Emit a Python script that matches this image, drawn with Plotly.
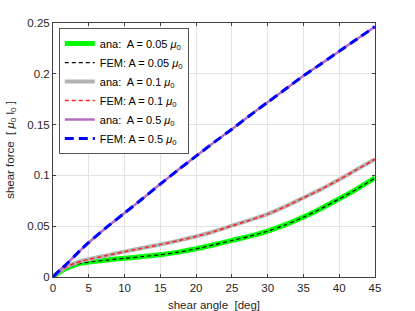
import plotly.graph_objects as go

# shear angle [deg]
angle = [0, 1, 2, 3, 4, 5, 7.5, 10, 12.5, 15, 17.5, 20, 22.5, 25, 27.5, 30, 32.5, 35, 37.5, 40, 42.5, 45]

# analytical shear force [mu0 l0]
ana_005 = [0, 0.0050, 0.0090, 0.0118, 0.0136, 0.0148, 0.0168, 0.0185, 0.0201, 0.0220, 0.0245, 0.0278, 0.0318, 0.0360, 0.0402, 0.0452, 0.0515, 0.0590, 0.0675, 0.0770, 0.0868, 0.0975]
ana_01 = [0, 0.0060, 0.0105, 0.0135, 0.0158, 0.0175, 0.0212, 0.0250, 0.0285, 0.0320, 0.0358, 0.0400, 0.0448, 0.0505, 0.0560, 0.0620, 0.0695, 0.0780, 0.0865, 0.0960, 0.1060, 0.1160]
ana_05 = [0, 0.0070, 0.0135, 0.0205, 0.0275, 0.0340, 0.0490, 0.0630, 0.0770, 0.0915, 0.1055, 0.1190, 0.1325, 0.1455, 0.1590, 0.1720, 0.1850, 0.1980, 0.2100, 0.2222, 0.2343, 0.2464]

# FEM shear force [mu0 l0]
fem_005 = [0, 0.0050, 0.0089, 0.0117, 0.0135, 0.0147, 0.0167, 0.0184, 0.0200, 0.0219, 0.0244, 0.0277, 0.0317, 0.0359, 0.0401, 0.0451, 0.0514, 0.0589, 0.0674, 0.0769, 0.0867, 0.0974]
fem_01 = [0, 0.0060, 0.0104, 0.0134, 0.0157, 0.0174, 0.0211, 0.0249, 0.0284, 0.0319, 0.0357, 0.0399, 0.0447, 0.0504, 0.0559, 0.0619, 0.0694, 0.0779, 0.0864, 0.0959, 0.1059, 0.1159]
fem_05 = [0, 0.0070, 0.0135, 0.0205, 0.0275, 0.0340, 0.0490, 0.0630, 0.0770, 0.0915, 0.1055, 0.1190, 0.1325, 0.1455, 0.1590, 0.1720, 0.1850, 0.1980, 0.2100, 0.2222, 0.2343, 0.2464]

x_ticks = [0, 5, 10, 15, 20, 25, 30, 35, 40, 45]
y_ticks = [0, 0.05, 0.1, 0.15, 0.2, 0.25]
y_ticklabels = ["0", "0.05", "0.1", "0.15", "0.2", "0.25"]

MU = "<i>μ</i><sub>0</sub>"
series = [
    ("ana:  A = 0.05 " + MU, ana_005, dict(color="#00ff00", width=5)),
    ("FEM: A = 0.05 " + MU, fem_005, dict(color="#000000", width=1.2, dash="4px,3px")),
    ("ana:  A = 0.1 " + MU, ana_01, dict(color="#b3b3b3", width=4)),
    ("FEM: A = 0.1 " + MU, fem_01, dict(color="#ff2020", width=1.5, dash="4px,3px")),
    ("ana:  A = 0.5 " + MU, ana_05, dict(color="#b56cc0", width=2.5)),
    ("FEM: A = 0.5 " + MU, fem_05, dict(color="#0000ff", width=3, dash="9px,5px")),
]

fig = go.Figure()
for name, ys, ln in series:
    fig.add_trace(go.Scatter(x=angle, y=ys, mode="lines", name=name,
                             line=dict(shape="spline", smoothing=0.6, **ln)))

axis_common = dict(
    showline=True, linecolor="#404040", linewidth=1, mirror="allticks",
    ticks="inside", ticklen=3, tickcolor="#404040",
    showgrid=True, gridcolor="#e3e3e3", gridwidth=1,
    zeroline=False, tickfont=dict(size=11.5, color="#262626"),
    automargin=False,
)

fig.update_xaxes(range=[0, 45], tickvals=x_ticks,
                 title=dict(text="shear angle  [deg]", font=dict(size=11.5, color="#262626"), standoff=9),
                 **axis_common)
fig.update_yaxes(range=[0, 0.25], tickvals=y_ticks, ticktext=y_ticklabels,
                 title=dict(text="shear force  [ " + MU + " l<sub>0</sub> ]", font=dict(size=11.5, color="#262626"), standoff=10),
                 **axis_common)

fig.update_layout(
    width=415, height=311,
    margin=dict(l=53, r=40, t=23, b=34),
    paper_bgcolor="white", plot_bgcolor="white",
    font=dict(family="Liberation Sans, Arial, sans-serif", size=11.5, color="#262626"),
    showlegend=True,
    legend=dict(x=0.018, y=0.98, xanchor="left", yanchor="top",
                bgcolor="white", bordercolor="#555555", borderwidth=1,
                font=dict(size=11, color="#000000"), itemwidth=30,
                tracegroupgap=0),
)

fig.write_html("out.html", config={"displayModeBar": False},
               post_script="document.body.style.margin='0';document.body.style.padding='0';document.body.style.overflow='hidden';")
